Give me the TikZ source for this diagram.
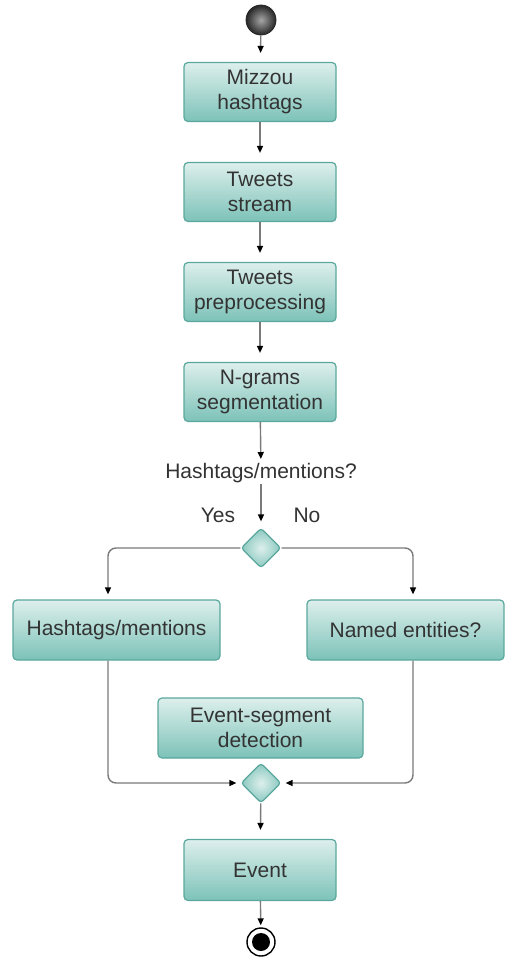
\documentclass[tikz,border=0pt]{standalone}
\usepackage{fontspec}
\setmainfont{Liberation Sans}
\usetikzlibrary{arrows.meta,shapes.geometric}

\definecolor{boxtop}{HTML}{DDEFEC}
\definecolor{boxbot}{HTML}{7CC2B8}
\definecolor{boxline}{HTML}{5AA89D}
\definecolor{txt}{HTML}{333333}
\definecolor{wire}{HTML}{7A7A7A}

\tikzset{
  activity/.style={draw=boxline, line width=1.2pt, rounded corners=4pt,
    top color=boxtop, bottom color=boxbot, minimum width=152pt,
    minimum height=59pt, inner sep=0pt, align=center, text=txt,
    font=\fontsize{21}{25}\selectfont},
  choice/.style={diamond, draw=boxline, line width=1.2pt, rounded corners=3pt,
    inner color=boxtop, outer color=boxbot!90!white, minimum width=40pt,
    minimum height=40pt, inner sep=0pt},
  caption/.style={text=txt, inner sep=1pt, font=\fontsize{21}{25}\selectfont},
  flow/.style={draw=wire, line width=1.4pt, shorten >=9pt,
    -{Triangle[width=6pt,length=7pt,color=black]}}
}

\begin{document}
\begin{tikzpicture}[x=1pt, y=-1pt]
      \useasboundingbox (0,0) rectangle (506,962);
      %Start and end
      \node[circle, draw=black!85, line width=0.8pt, minimum size=30pt, inner sep=0pt,
        inner color=black!35, outer color=black!85] (start) at (261,20) {};
      \node[circle, draw=black, line width=1.4pt, minimum size=28pt, inner sep=0pt] (stop) at (261,942) {};
      \fill[black] (stop.center) circle (9pt);
      %Pipeline boxes
      \foreach \n/\y/\t in {b1/92/{Mizzou\\hashtags}, b2/192/{Tweets\\stream},
          b3/292/{Tweets\\preprocessing}, b4/392/{N-grams\\segmentation}}
	\node[activity] (\n) at (260,\y) {\t};
      \node[activity, minimum width=207pt, minimum height=60pt] (tags) at (116.5,630) {Hashtags/mentions};
      \node[activity, minimum width=197pt, minimum height=60pt] (named) at (405.5,630) {Named entities?};
      \node[activity, minimum width=205pt, minimum height=60pt] (segment) at (260.5,728) {Event-segment\\detection};
      \node[activity, minimum height=61pt] (event) at (260,870) {Event};
      %Decisions
      \node[caption] (question) at (261,473) {Hashtags/mentions?};
      \node[choice] (split) at (261,548) {};
      \node[choice] (merge) at (261,783) {};
      \node[caption] (yes) at (218,515) {Yes};
      \node[caption] (no) at (307,515) {No};
      %Arrows
      \draw[flow] (start) -- (b1);
      \foreach \a/\b in {b1/b2, b2/b3, b3/b4}
	\draw[flow] (\a) -- (\b);
      \draw[flow, shorten >=3pt] (b4) -- (question);
      \draw[flow, shorten >=6pt] (question) -- (split);
      \draw[flow, shorten >=5pt, rounded corners=8pt] (split.west) -| ([xshift=-8.5pt]tags.north);
      \draw[flow, shorten >=5pt, rounded corners=8pt] (split.east) -| ([xshift=7.5pt]named.north);
      \draw[flow, shorten >=4pt, rounded corners=8pt] ([xshift=-8.5pt]tags.south) |- (merge.west);
      \draw[flow, shorten >=4pt, rounded corners=8pt] ([xshift=7.5pt]named.south) |- (merge.east);
      \draw[flow] (merge) -- (event);
      \draw[flow, shorten >=2pt] (event) -- (stop);
    \end{tikzpicture}
\end{document}
